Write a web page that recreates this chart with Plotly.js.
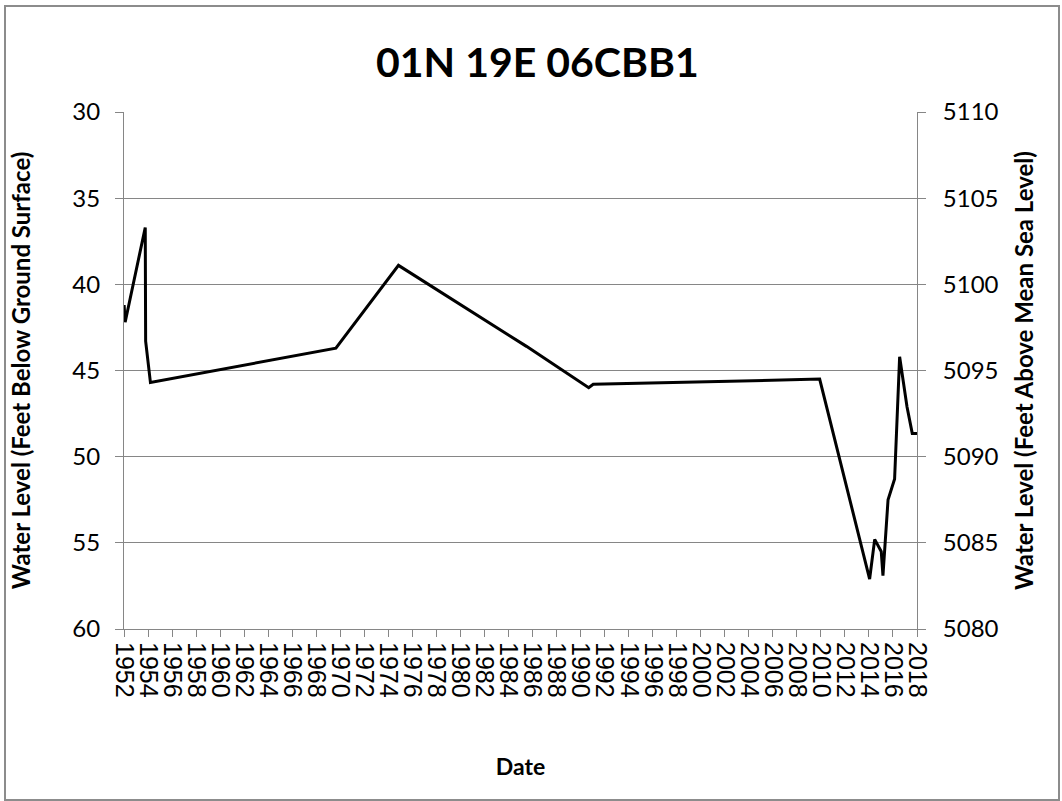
<!DOCTYPE html>
<html>
<head>
<meta charset="utf-8">
<script src="https://cdn.plot.ly/plotly-3.0.1.min.js"></script>
<style>
  html, body { margin: 0; padding: 0; background: #ffffff; }
  #wrap { position: relative; width: 1062px; height: 801px; }
  #chart { position: absolute; left: 0; top: 0; width: 1062px; height: 801px; }
  #frame { position: absolute; left: 4px; top: 5px; width: 1052px; height: 792px;
           border: 2px solid #8c8c8c; pointer-events: none; }
</style>
</head>
<body>
<div id="wrap">
  <div id="chart"></div>
  <div id="frame"></div>
</div>
<script>
// Measurement dates
const dates = [
  '1952-01-05', '1952-02-05', '1953-10-08', '1953-10-20', '1954-03-15',
  '1969-08-20', '1974-11-05', '1985-07-01', '1990-09-05', '1991-01-20',
  '2009-11-25', '2014-01-22', '2014-06-25', '2015-01-10', '2015-03-03',
  '2015-08-05', '2016-02-20', '2016-07-22', '2017-03-03', '2017-08-10',
  '2017-12-31'
];
// Water level, feet below ground surface
const depthBelowSurface = [
  41.2, 42.2, 36.7, 43.3, 45.7,
  43.7, 38.9, 43.6, 46.0, 45.8,
  45.5, 57.1, 54.8, 55.5, 56.9,
  52.5, 51.3, 44.2, 47.1, 48.65,
  48.65
];
// Land surface elevation (feet above mean sea level)
const landSurfaceElevation = 5140;
const elevationAMSL = depthBelowSurface.map(d => landSurfaceElevation - d);

const chartTitle = '01N 19E 06CBB1';
const xTitle = 'Date';
const yLeftTitle = 'Water Level (Feet Below Ground Surface)';
const yRightTitle = 'Water Level (Feet Above Mean Sea Level)';

const axisGrey = '#868686';
const titleFont = 'Lato, "Open Sans", sans-serif';
const tickFontX = '"Liberation Sans", Arial, sans-serif';

const traces = [
  {
    x: dates, y: depthBelowSurface, type: 'scatter', mode: 'lines',
    line: { color: '#000000', width: 3 }, xaxis: 'x', yaxis: 'y',
    hoverinfo: 'x+y', showlegend: false
  },
  {
    x: dates, y: elevationAMSL, type: 'scatter', mode: 'lines',
    line: { color: 'rgba(0,0,0,0)', width: 0 }, xaxis: 'x', yaxis: 'y2',
    hoverinfo: 'skip', showlegend: false
  }
];

const layout = {
  width: 1062, height: 801,
  paper_bgcolor: '#ffffff', plot_bgcolor: '#ffffff',
  margin: { l: 124, r: 145, t: 112, b: 172 },
  showlegend: false,
  title: {
    text: '<b>' + chartTitle + '</b>',
    font: { family: titleFont, size: 41, color: '#000000' },
    x: 0.506, xanchor: 'center', y: 0.922, yanchor: 'middle'
  },
  xaxis: {
    type: 'date',
    range: ['1952-01-01', '2018-01-01'],
    tick0: '1952-01-01', dtick: 'M24', tickformat: '%Y',
    tickangle: 90,
    tickfont: { family: tickFontX, size: 25, color: '#000000' },
    ticks: 'outside', ticklen: 7, tickcolor: axisGrey, tickwidth: 1,
    showline: true, linecolor: axisGrey, linewidth: 1,
    showgrid: false, zeroline: false,
    title: { text: '<b>' + xTitle + '</b>', font: { family: titleFont, size: 23, color: '#000000' }, standoff: 62 }
  },
  yaxis: {
    range: [60, 30], dtick: 5, tick0: 30,
    tickfont: { family: titleFont, size: 24, color: '#000000' },
    ticklabelstandoff: 10,
    ticks: 'outside', ticklen: 8, tickcolor: axisGrey, tickwidth: 1,
    showline: true, linecolor: axisGrey, linewidth: 1,
    showgrid: true, gridcolor: axisGrey, gridwidth: 1, zeroline: false,
    title: { text: '<b>' + yLeftTitle + '</b>', font: { family: titleFont, size: 24, color: '#000000' }, standoff: 34 }
  },
  yaxis2: {
    overlaying: 'y', side: 'right',
    range: [5080, 5110], dtick: 5, tick0: 5080,
    tickfont: { family: titleFont, size: 24, color: '#000000' },
    ticklabelstandoff: 12,
    ticks: 'outside', ticklen: 8, tickcolor: axisGrey, tickwidth: 1,
    showline: true, linecolor: axisGrey, linewidth: 1,
    showgrid: false, zeroline: false,
    title: { text: '<b>' + yRightTitle + '</b>', font: { family: titleFont, size: 24, color: '#000000' }, standoff: 18 }
  }
};

Plotly.newPlot('chart', traces, layout, { displayModeBar: false, staticPlot: true });
</script>
</body>
</html>
